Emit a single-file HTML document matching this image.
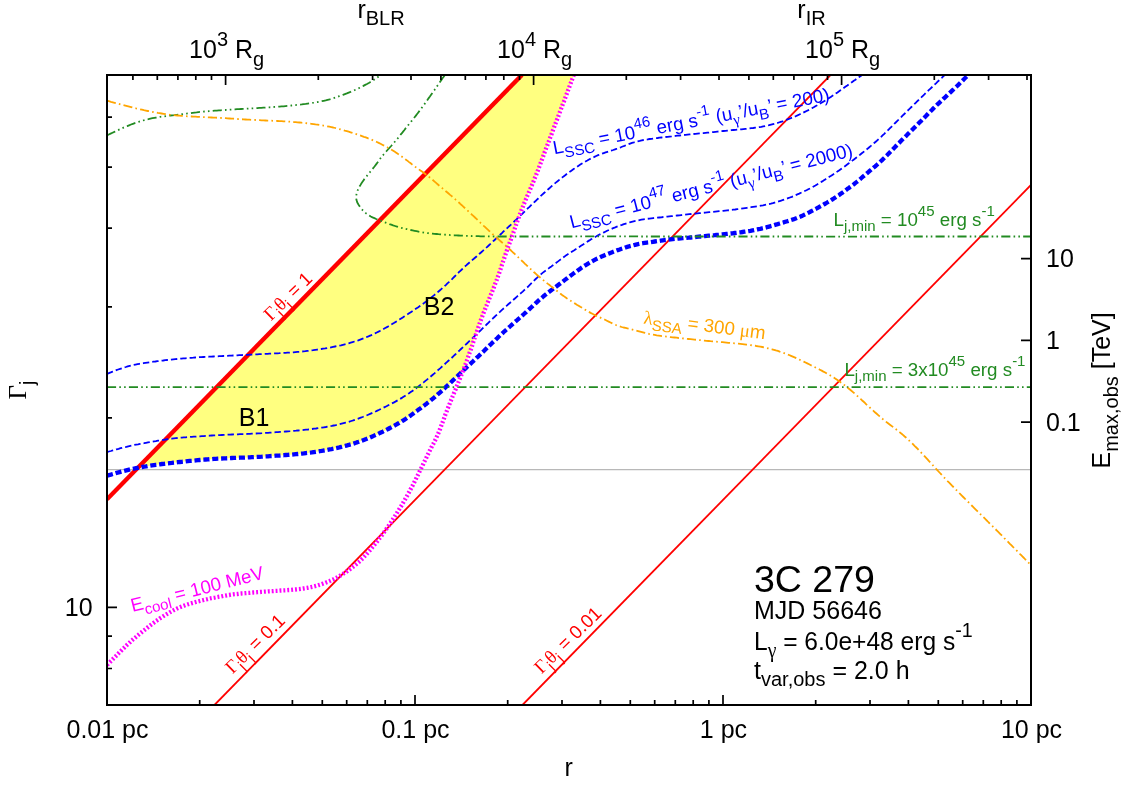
<!DOCTYPE html>
<html><head><meta charset="utf-8"><title>3C 279 jet parameter space</title>
<style>html,body{margin:0;padding:0;background:#fff;}body{width:1121px;height:785px;overflow:hidden;font-family:"Liberation Sans",sans-serif;}svg{display:block;will-change:transform;}</style>
</head><body>
<svg width="1121" height="785" viewBox="0 0 1121 785" font-family="Liberation Sans, sans-serif">
<defs><clipPath id="c"><rect x="107.0" y="75.0" width="924.0" height="630.0"/></clipPath></defs>
<rect width="1121" height="785" fill="#fff"/>
<g clip-path="url(#c)" fill="none" stroke-linecap="butt" stroke-linejoin="round">
<path d="M138.1,467.8 L521.9,75.0 L573.7,75.0 L573.7,75.2 L573.0,77.1 L572.3,79.0 L571.6,80.8 L570.9,82.7 L570.2,84.6 L569.5,86.5 L568.8,88.4 L568.1,90.2 L567.4,92.1 L566.7,94.0 L566.0,95.9 L565.3,97.7 L564.6,99.6 L563.9,101.5 L563.1,103.4 L562.4,105.2 L561.7,107.1 L561.0,109.0 L560.3,110.9 L559.6,112.7 L558.9,114.6 L558.2,116.5 L557.5,118.4 L556.8,120.2 L556.0,122.1 L555.3,124.0 L554.6,125.9 L553.9,127.7 L553.2,129.6 L552.5,131.5 L551.8,133.4 L551.1,135.3 L550.4,137.1 L549.7,139.0 L549.0,140.9 L548.3,142.8 L547.6,144.6 L546.9,146.5 L546.1,148.4 L545.4,150.3 L544.7,152.1 L544.0,154.0 L543.3,155.9 L542.6,157.8 L541.9,159.7 L541.2,161.5 L540.5,163.4 L539.8,165.3 L539.1,167.2 L538.4,169.0 L537.7,170.9 L536.9,172.8 L536.2,174.7 L535.5,176.5 L534.7,178.4 L534.0,180.2 L533.2,182.1 L532.4,183.9 L531.7,185.8 L530.9,187.6 L530.1,189.5 L529.3,191.3 L528.5,193.2 L527.7,195.0 L526.9,196.8 L526.1,198.7 L525.4,200.5 L524.6,202.4 L523.8,204.2 L523.1,206.1 L522.3,208.0 L521.6,209.8 L520.9,211.7 L520.2,213.6 L519.4,215.5 L518.8,217.3 L518.1,219.2 L517.4,221.1 L516.7,223.0 L516.0,224.9 L515.4,226.8 L514.7,228.7 L514.0,230.6 L513.4,232.4 L512.7,234.3 L512.0,236.2 L511.3,238.1 L510.7,240.0 L510.0,241.9 L509.3,243.8 L508.6,245.7 L507.9,247.5 L507.3,249.4 L506.6,251.3 L505.9,253.2 L505.3,255.1 L504.6,257.0 L504.0,258.9 L503.3,260.8 L502.7,262.7 L502.0,264.6 L501.4,266.5 L500.8,268.4 L500.1,270.3 L499.5,272.2 L498.8,274.1 L498.1,276.0 L497.4,277.9 L496.8,279.7 L496.1,281.6 L495.3,283.5 L494.6,285.4 L493.9,287.2 L493.2,289.1 L492.4,291.0 L491.7,292.8 L490.9,294.7 L490.2,296.5 L489.4,298.4 L488.6,300.3 L487.9,302.1 L487.1,304.0 L486.4,305.8 L485.6,307.7 L484.9,309.6 L484.2,311.4 L483.4,313.3 L482.7,315.2 L482.0,317.0 L481.3,318.9 L480.6,320.8 L479.9,322.7 L479.3,324.6 L478.6,326.5 L478.0,328.4 L477.3,330.3 L476.7,332.2 L476.0,334.1 L475.4,336.0 L474.7,337.9 L474.1,339.8 L473.4,341.7 L472.8,343.6 L472.2,345.5 L471.5,347.4 L470.9,349.3 L470.2,351.2 L469.5,353.0 L468.9,354.9 L468.2,356.8 L467.5,358.7 L466.9,360.6 L466.2,362.5 L465.5,364.4 L464.8,366.2 L464.1,368.1 L463.3,370.0 L463.8,370.0 L462.4,371.4 L460.9,372.8 L459.4,374.2 L458.0,375.6 L456.5,376.9 L455.1,378.3 L453.6,379.7 L452.2,381.1 L450.7,382.5 L449.3,383.9 L447.8,385.2 L446.3,386.6 L444.9,388.0 L443.4,389.4 L441.9,390.7 L440.4,392.1 L438.9,393.4 L437.4,394.7 L435.9,396.1 L434.4,397.4 L432.9,398.6 L431.3,399.9 L429.8,401.2 L428.2,402.4 L426.6,403.7 L425.0,404.9 L423.4,406.1 L421.8,407.3 L420.2,408.5 L418.6,409.6 L417.0,410.8 L415.3,412.0 L413.7,413.2 L412.1,414.4 L410.5,415.6 L408.8,416.7 L407.2,417.8 L405.5,419.0 L403.8,420.1 L402.1,421.1 L400.4,422.2 L398.7,423.2 L397.0,424.2 L395.2,425.2 L393.4,426.2 L391.7,427.1 L389.9,428.0 L388.1,429.0 L386.3,429.9 L384.5,430.8 L382.8,431.7 L380.9,432.5 L379.1,433.4 L377.3,434.3 L375.5,435.1 L373.6,435.9 L371.8,436.7 L370.0,437.5 L368.1,438.2 L366.2,439.0 L364.4,439.7 L362.5,440.4 L360.6,441.1 L358.7,441.8 L356.8,442.4 L354.9,443.1 L353.0,443.7 L351.1,444.3 L349.1,444.8 L347.2,445.4 L345.3,445.9 L343.3,446.4 L341.4,446.9 L339.4,447.4 L337.5,447.8 L335.5,448.2 L333.6,448.7 L331.6,449.1 L329.6,449.4 L327.6,449.8 L325.7,450.2 L323.7,450.5 L321.7,450.9 L319.7,451.2 L317.8,451.5 L315.8,451.8 L313.8,452.1 L311.8,452.4 L309.8,452.6 L307.8,452.9 L305.8,453.1 L303.8,453.4 L301.8,453.6 L299.9,453.8 L297.9,454.0 L295.9,454.2 L293.9,454.4 L291.9,454.6 L289.9,454.7 L287.9,454.9 L285.9,455.0 L283.9,455.2 L281.9,455.3 L279.9,455.5 L277.9,455.6 L275.9,455.7 L273.9,455.9 L271.9,456.0 L269.9,456.1 L267.9,456.3 L265.9,456.4 L263.9,456.5 L261.8,456.7 L259.8,456.8 L257.8,456.9 L255.8,457.0 L253.8,457.1 L251.8,457.2 L249.8,457.3 L247.8,457.4 L245.8,457.5 L243.8,457.6 L241.8,457.6 L239.8,457.7 L237.8,457.8 L235.8,457.9 L233.8,457.9 L231.8,458.0 L229.8,458.1 L227.8,458.2 L225.8,458.3 L223.8,458.4 L221.8,458.5 L219.8,458.6 L217.8,458.7 L215.8,458.8 L213.8,458.9 L211.8,459.1 L209.8,459.2 L207.8,459.4 L205.8,459.5 L203.8,459.7 L201.8,459.8 L199.8,460.0 L197.8,460.2 L195.8,460.4 L193.8,460.6 L191.8,460.8 L189.8,460.9 L187.8,461.1 L185.8,461.3 L183.8,461.6 L181.8,461.8 L179.8,462.0 L177.8,462.2 L175.8,462.4 L173.8,462.6 L171.8,462.9 L169.8,463.1 L167.8,463.3 L165.9,463.5 L163.9,463.8 L161.9,464.0 L159.9,464.3 L157.9,464.6 L155.9,464.8 L153.9,465.1 L151.9,465.4 L150.0,465.7 L148.0,466.0 L146.0,466.4 L144.0,466.7 L142.0,467.0 L140.1,467.4 L138.1,467.8Z" fill="#ffff80" stroke="none"/>
<path d="M107.0,469.6 L1031.0,469.6" stroke="#b8b8b8" stroke-width="1.2"/>
<path d="M107.0,499.3 L521.9,75.0" stroke="#f00" stroke-width="4.4"/>
<path d="M214.5,705.0 L830.5,75.0" stroke="#f00" stroke-width="1.8"/>
<path d="M522.5,705.0 L1031.0,184.9" stroke="#f00" stroke-width="1.8"/>
<path d="M107.0,373.9 L108.9,373.1 L110.7,372.4 L112.6,371.6 L114.5,370.9 L116.3,370.2 L118.2,369.5 L120.1,368.8 L122.0,368.2 L123.9,367.5 L125.8,367.0 L127.7,366.4 L129.7,365.9 L131.6,365.4 L133.6,365.0 L135.5,364.6 L137.5,364.2 L139.5,363.8 L141.5,363.5 L143.4,363.2 L145.4,362.9 L147.4,362.6 L149.4,362.3 L151.4,362.0 L153.4,361.7 L155.4,361.5 L157.4,361.2 L159.4,361.0 L161.3,360.7 L163.3,360.5 L165.3,360.2 L167.3,360.0 L169.3,359.8 L171.3,359.6 L173.3,359.4 L175.3,359.2 L177.3,359.0 L179.3,358.8 L181.3,358.6 L183.3,358.4 L185.3,358.3 L187.3,358.1 L189.3,357.9 L191.3,357.8 L193.3,357.7 L195.3,357.5 L197.3,357.4 L199.3,357.2 L201.3,357.1 L203.3,357.0 L205.3,356.9 L207.3,356.8 L209.3,356.7 L211.3,356.6 L213.3,356.5 L215.3,356.4 L217.3,356.3 L219.3,356.2 L221.3,356.1 L223.3,356.0 L225.3,355.9 L227.3,355.8 L229.3,355.7 L231.3,355.6 L233.3,355.5 L235.3,355.4 L237.3,355.3 L239.3,355.2 L241.3,355.1 L243.3,355.0 L245.3,354.9 L247.3,354.8 L249.3,354.7 L251.3,354.6 L253.3,354.5 L255.3,354.4 L257.3,354.3 L259.3,354.2 L261.3,354.1 L263.3,354.0 L265.4,353.9 L267.4,353.8 L269.4,353.7 L271.4,353.6 L273.4,353.5 L275.4,353.4 L277.4,353.3 L279.4,353.2 L281.4,353.0 L283.4,352.9 L285.4,352.8 L287.4,352.7 L289.4,352.6 L291.4,352.4 L293.4,352.3 L295.4,352.1 L297.4,351.9 L299.4,351.8 L301.4,351.6 L303.4,351.4 L305.4,351.2 L307.3,350.9 L309.3,350.7 L311.3,350.4 L313.3,350.2 L315.3,349.9 L317.3,349.6 L319.3,349.3 L321.2,349.0 L323.2,348.7 L325.2,348.4 L327.2,348.0 L329.2,347.7 L331.1,347.3 L333.1,346.9 L335.1,346.5 L337.0,346.1 L339.0,345.7 L341.0,345.3 L342.9,344.8 L344.8,344.3 L346.8,343.8 L348.7,343.3 L350.7,342.7 L352.6,342.1 L354.5,341.5 L356.4,340.9 L358.3,340.3 L360.2,339.6 L362.1,338.9 L363.9,338.2 L365.8,337.4 L367.7,336.7 L369.5,335.9 L371.4,335.1 L373.2,334.2 L375.0,333.4 L376.8,332.5 L378.6,331.6 L380.4,330.7 L382.2,329.8 L383.9,328.8 L385.7,327.8 L387.4,326.9 L389.2,325.8 L390.9,324.8 L392.6,323.8 L394.3,322.8 L396.0,321.7 L397.7,320.6 L399.4,319.6 L401.1,318.5 L402.8,317.4 L404.5,316.3 L406.2,315.2 L407.9,314.1 L409.5,313.0 L411.2,311.9 L412.9,310.8 L414.5,309.7 L416.2,308.5 L417.9,307.4 L419.5,306.3 L421.1,305.1 L422.8,303.9 L424.4,302.8 L426.0,301.6 L427.6,300.4 L429.2,299.1 L430.8,297.9 L432.3,296.6 L433.9,295.4 L435.4,294.1 L437.0,292.8 L438.5,291.5 L440.0,290.2 L441.5,288.9 L443.0,287.5 L444.5,286.2 L446.0,284.8 L447.4,283.4 L448.9,282.1 L450.3,280.7 L451.8,279.3 L453.2,277.9 L454.6,276.5 L456.1,275.1 L457.5,273.7 L458.9,272.2 L460.4,270.8 L461.8,269.5 L463.3,268.1 L464.7,266.7 L466.2,265.4 L467.7,264.0 L469.2,262.7 L470.7,261.4 L472.2,260.1 L473.8,258.8 L475.3,257.5 L476.8,256.2 L478.3,254.9 L479.8,253.5 L481.3,252.2 L482.8,250.9 L484.3,249.5 L485.8,248.2 L487.3,246.8 L488.7,245.5 L490.2,244.1 L491.7,242.7 L493.1,241.3 L494.6,240.0 L496.0,238.6 L497.5,237.2 L499.0,235.8 L500.4,234.5 L501.9,233.1 L503.3,231.7 L504.8,230.3 L506.3,229.0 L507.7,227.6 L509.2,226.2 L510.7,224.9 L512.1,223.5 L513.6,222.1 L515.0,220.7 L516.5,219.3 L517.9,218.0 L519.4,216.6 L520.8,215.2 L522.3,213.8 L523.7,212.4 L525.2,211.0 L526.6,209.6 L528.0,208.2 L529.5,206.8 L530.9,205.4 L532.4,204.0 L533.8,202.6 L535.3,201.3 L536.7,199.9 L538.2,198.5 L539.6,197.1 L541.1,195.7 L542.5,194.4 L544.0,193.0 L545.5,191.7 L547.0,190.3 L548.5,189.0 L550.0,187.7 L551.5,186.3 L553.0,185.0 L554.5,183.7 L556.1,182.4 L557.6,181.2 L559.2,179.9 L560.7,178.7 L562.3,177.4 L563.9,176.2 L565.5,175.0 L567.1,173.7 L568.7,172.6 L570.3,171.4 L572.0,170.2 L573.6,169.1 L575.3,167.9 L577.0,166.8 L578.6,165.7 L580.3,164.6 L582.0,163.5 L583.8,162.5 L585.5,161.5 L587.3,160.5 L589.0,159.5 L590.8,158.6 L592.6,157.7 L594.4,156.9 L596.2,156.0 L598.1,155.2 L599.9,154.5 L601.8,153.8 L603.7,153.1 L605.6,152.4 L607.5,151.8 L609.4,151.2 L611.3,150.6 L613.2,150.0 L615.1,149.3 L617.0,148.7 L618.9,148.0 L620.8,147.3 L622.6,146.5 L624.5,145.8 L626.4,145.0 L628.2,144.3 L630.1,143.6 L632.0,142.9 L633.9,142.4 L635.8,141.8 L637.8,141.3 L639.7,140.9 L641.7,140.4 L643.6,140.0 L645.6,139.7 L647.6,139.4 L649.6,139.0 L651.6,138.8 L653.6,138.5 L655.6,138.2 L657.6,138.0 L659.6,137.7 L661.6,137.5 L663.6,137.3 L665.6,137.0 L667.6,136.8 L669.6,136.6 L671.6,136.4 L673.6,136.1 L675.6,135.9 L677.5,135.7 L679.5,135.5 L681.5,135.3 L683.5,135.1 L685.5,134.8 L687.5,134.6 L689.5,134.4 L691.5,134.2 L693.5,134.0 L695.5,133.8 L697.5,133.6 L699.5,133.4 L701.5,133.2 L703.5,133.1 L705.5,132.9 L707.4,132.7 L709.4,132.5 L711.4,132.3 L713.4,132.1 L715.4,131.8 L717.4,131.6 L719.4,131.4 L721.4,131.2 L723.4,131.0 L725.4,130.8 L727.4,130.6 L729.4,130.4 L731.4,130.2 L733.4,130.0 L735.4,129.9 L737.4,129.7 L739.4,129.5 L741.4,129.3 L743.4,129.1 L745.4,128.9 L747.4,128.7 L749.4,128.5 L751.3,128.2 L753.3,128.0 L755.3,127.7 L757.3,127.4 L759.3,127.1 L761.3,126.8 L763.2,126.4 L765.2,126.0 L767.2,125.6 L769.1,125.2 L771.1,124.7 L773.0,124.2 L775.0,123.7 L776.9,123.1 L778.8,122.5 L780.7,121.9 L782.6,121.3 L784.5,120.6 L786.4,119.9 L788.3,119.2 L790.1,118.5 L792.0,117.7 L793.9,117.0 L795.7,116.2 L797.5,115.4 L799.4,114.5 L801.2,113.7 L803.0,112.8 L804.8,111.9 L806.6,111.0 L808.4,110.1 L810.1,109.2 L811.9,108.2 L813.7,107.3 L815.4,106.3 L817.2,105.3 L818.9,104.3 L820.6,103.3 L822.4,102.3 L824.1,101.2 L825.8,100.1 L827.5,99.1 L829.1,98.0 L830.8,96.9 L832.5,95.8 L834.2,94.7 L835.8,93.5 L837.5,92.4 L839.1,91.3 L840.8,90.1 L842.4,89.0 L844.0,87.8 L845.7,86.6 L847.3,85.5 L848.9,84.3 L850.6,83.2 L852.2,82.0 L853.8,80.8 L855.5,79.7 L857.1,78.5 L858.7,77.3 L860.4,76.2 L862.0,75.0" stroke="#00f" stroke-width="1.8" stroke-dasharray="6.4 3"/>
<path d="M107.0,452.1 L108.9,451.5 L110.9,451.0 L112.8,450.4 L114.7,449.9 L116.6,449.3 L118.6,448.8 L120.5,448.2 L122.5,447.7 L124.4,447.2 L126.4,446.8 L128.3,446.3 L130.3,445.9 L132.2,445.5 L134.2,445.0 L136.2,444.6 L138.1,444.3 L140.1,443.9 L142.1,443.5 L144.1,443.2 L146.0,442.8 L148.0,442.4 L150.0,442.1 L152.0,441.8 L154.0,441.4 L155.9,441.1 L157.9,440.7 L159.9,440.4 L161.9,440.1 L163.9,439.8 L165.8,439.5 L167.8,439.2 L169.8,438.9 L171.8,438.7 L173.8,438.4 L175.8,438.2 L177.8,438.0 L179.8,437.8 L181.8,437.6 L183.8,437.4 L185.8,437.3 L187.8,437.1 L189.8,437.0 L191.8,436.8 L193.8,436.7 L195.8,436.6 L197.8,436.4 L199.8,436.3 L201.8,436.2 L203.8,436.1 L205.8,435.9 L207.8,435.8 L209.8,435.7 L211.8,435.5 L213.8,435.4 L215.8,435.3 L217.8,435.2 L219.9,435.1 L221.9,435.0 L223.9,434.9 L225.9,434.8 L227.9,434.7 L229.9,434.6 L231.9,434.5 L233.9,434.4 L235.9,434.4 L237.9,434.3 L239.9,434.2 L241.9,434.1 L243.9,434.1 L245.9,434.0 L247.9,433.9 L249.9,433.8 L251.9,433.7 L254.0,433.6 L256.0,433.5 L258.0,433.4 L260.0,433.3 L262.0,433.2 L264.0,433.0 L266.0,432.9 L268.0,432.8 L270.0,432.6 L272.0,432.5 L274.0,432.4 L276.0,432.2 L278.0,432.1 L280.0,431.9 L282.0,431.8 L284.0,431.7 L286.0,431.5 L288.0,431.3 L290.0,431.2 L292.0,431.0 L294.0,430.8 L296.0,430.7 L298.0,430.5 L300.0,430.3 L302.0,430.1 L304.0,429.9 L306.0,429.7 L308.0,429.5 L310.0,429.2 L312.0,429.0 L314.0,428.7 L316.0,428.5 L317.9,428.2 L319.9,427.9 L321.9,427.6 L323.9,427.3 L325.9,427.0 L327.9,426.6 L329.8,426.2 L331.8,425.9 L333.8,425.5 L335.8,425.1 L337.7,424.6 L339.7,424.2 L341.6,423.7 L343.6,423.2 L345.5,422.7 L347.5,422.2 L349.4,421.6 L351.3,421.0 L353.2,420.4 L355.1,419.7 L357.0,419.1 L358.9,418.4 L360.8,417.7 L362.6,417.0 L364.5,416.2 L366.4,415.5 L368.2,414.7 L370.1,413.9 L371.9,413.1 L373.8,412.3 L375.6,411.5 L377.4,410.6 L379.2,409.8 L381.1,408.9 L382.9,408.0 L384.7,407.1 L386.5,406.3 L388.3,405.3 L390.1,404.4 L391.8,403.5 L393.6,402.6 L395.4,401.6 L397.1,400.6 L398.9,399.6 L400.6,398.6 L402.3,397.6 L404.0,396.5 L405.7,395.4 L407.4,394.3 L409.1,393.2 L410.7,392.1 L412.4,390.9 L414.0,389.8 L415.6,388.6 L417.2,387.4 L418.8,386.1 L420.4,384.9 L422.0,383.7 L423.6,382.4 L425.1,381.1 L426.7,379.9 L428.2,378.6 L429.8,377.3 L431.3,376.0 L432.8,374.7 L434.4,373.4 L435.9,372.1 L437.4,370.7 L438.9,369.4 L440.4,368.1 L441.9,366.7 L443.4,365.4 L444.9,364.0 L446.3,362.7 L447.8,361.3 L449.3,360.0 L450.8,358.6 L452.3,357.3 L453.7,355.9 L455.2,354.5 L456.7,353.2 L458.1,351.8 L459.6,350.4 L461.0,349.0 L462.5,347.6 L464.0,346.3 L465.4,344.9 L466.9,343.5 L468.3,342.1 L469.8,340.7 L471.2,339.3 L472.7,338.0 L474.1,336.6 L475.6,335.2 L477.0,333.8 L478.5,332.4 L479.9,331.0 L481.4,329.6 L482.8,328.2 L484.2,326.8 L485.7,325.4 L487.1,324.0 L488.6,322.6 L490.0,321.2 L491.5,319.8 L492.9,318.4 L494.4,317.0 L495.8,315.7 L497.3,314.3 L498.7,312.9 L500.2,311.6 L501.7,310.2 L503.2,308.8 L504.7,307.5 L506.2,306.2 L507.7,304.8 L509.2,303.5 L510.7,302.2 L512.2,300.9 L513.7,299.5 L515.2,298.2 L516.7,296.9 L518.2,295.6 L519.7,294.2 L521.2,292.9 L522.7,291.6 L524.2,290.2 L525.7,288.8 L527.2,287.5 L528.6,286.1 L530.0,284.7 L531.5,283.2 L532.9,281.8 L534.3,280.4 L535.7,279.0 L537.2,277.6 L538.6,276.2 L540.1,274.9 L541.7,273.6 L543.2,272.4 L544.8,271.2 L546.5,270.0 L548.1,268.8 L549.7,267.6 L551.4,266.4 L553.0,265.2 L554.6,264.0 L556.2,262.8 L557.8,261.6 L559.4,260.4 L561.0,259.2 L562.6,258.0 L564.2,256.8 L565.8,255.6 L567.5,254.5 L569.2,253.4 L570.9,252.3 L572.6,251.2 L574.3,250.2 L576.0,249.1 L577.6,248.0 L579.3,246.9 L581.0,245.8 L582.7,244.7 L584.4,243.6 L586.0,242.5 L587.7,241.4 L589.4,240.4 L591.1,239.3 L592.9,238.3 L594.6,237.3 L596.4,236.3 L598.1,235.3 L599.9,234.4 L601.7,233.5 L603.5,232.6 L605.3,231.7 L607.1,230.8 L608.9,230.0 L610.8,229.2 L612.6,228.4 L614.5,227.7 L616.3,226.9 L618.2,226.2 L620.1,225.5 L622.0,224.9 L623.9,224.2 L625.8,223.6 L627.7,223.0 L629.7,222.4 L631.6,221.9 L633.5,221.4 L635.5,220.9 L637.5,220.5 L639.4,220.1 L641.4,219.7 L643.4,219.4 L645.4,219.1 L647.4,218.8 L649.3,218.6 L651.3,218.3 L653.3,218.1 L655.3,217.9 L657.3,217.7 L659.3,217.5 L661.3,217.3 L663.3,217.0 L665.3,216.8 L667.3,216.6 L669.3,216.4 L671.3,216.2 L673.3,216.0 L675.3,215.7 L677.3,215.5 L679.3,215.3 L681.3,215.1 L683.3,214.9 L685.3,214.6 L687.3,214.4 L689.3,214.2 L691.3,214.0 L693.3,213.8 L695.3,213.6 L697.3,213.4 L699.3,213.2 L701.3,213.0 L703.2,212.8 L705.2,212.6 L707.2,212.4 L709.2,212.2 L711.2,212.0 L713.2,211.8 L715.2,211.6 L717.2,211.4 L719.2,211.2 L721.2,211.0 L723.2,210.8 L725.2,210.6 L727.2,210.4 L729.2,210.2 L731.2,209.9 L733.2,209.7 L735.2,209.5 L737.2,209.2 L739.2,209.0 L741.2,208.7 L743.2,208.4 L745.1,208.1 L747.1,207.8 L749.1,207.5 L751.1,207.2 L753.1,206.9 L755.1,206.6 L757.1,206.3 L759.0,206.0 L761.0,205.6 L763.0,205.3 L765.0,204.9 L766.9,204.5 L768.9,204.1 L770.9,203.7 L772.8,203.2 L774.7,202.6 L776.7,202.0 L778.6,201.4 L780.5,200.8 L782.4,200.2 L784.3,199.5 L786.2,198.9 L788.1,198.2 L790.0,197.5 L791.8,196.8 L793.7,196.0 L795.5,195.2 L797.4,194.4 L799.2,193.6 L801.0,192.7 L802.8,191.9 L804.7,191.0 L806.5,190.2 L808.3,189.3 L810.1,188.4 L811.9,187.5 L813.6,186.5 L815.4,185.5 L817.1,184.5 L818.8,183.5 L820.5,182.4 L822.2,181.4 L823.9,180.3 L825.6,179.2 L827.3,178.1 L829.0,177.0 L830.7,176.0 L832.4,174.9 L834.1,173.8 L835.7,172.6 L837.4,171.5 L839.0,170.4 L840.7,169.2 L842.3,168.1 L844.0,166.9 L845.6,165.7 L847.2,164.5 L848.8,163.3 L850.4,162.2 L852.0,160.9 L853.6,159.7 L855.2,158.5 L856.8,157.3 L858.4,156.1 L860.0,154.8 L861.5,153.5 L863.1,152.3 L864.7,151.0 L866.2,149.7 L867.8,148.5 L869.3,147.2 L870.9,145.9 L872.4,144.6 L873.9,143.3 L875.4,142.0 L876.9,140.7 L878.4,139.3 L879.9,138.0 L881.4,136.6 L882.8,135.2 L884.3,133.8 L885.7,132.4 L887.2,131.0 L888.6,129.6 L890.0,128.2 L891.4,126.8 L892.9,125.4 L894.3,123.9 L895.7,122.5 L897.1,121.1 L898.6,119.7 L900.0,118.3 L901.4,116.9 L902.8,115.4 L904.3,114.0 L905.7,112.6 L907.1,111.2 L908.5,109.8 L910.0,108.4 L911.4,107.0 L912.8,105.6 L914.3,104.2 L915.7,102.8 L917.1,101.4 L918.6,100.0 L920.0,98.6 L921.5,97.2 L922.9,95.8 L924.4,94.4 L925.8,93.0 L927.3,91.6 L928.7,90.2 L930.2,88.8 L931.6,87.5 L933.1,86.1 L934.5,84.7 L936.0,83.3 L937.4,81.9 L938.9,80.5 L940.3,79.2 L941.8,77.8 L943.2,76.4 L944.7,75.0" stroke="#00f" stroke-width="1.8" stroke-dasharray="6.4 3"/>
<path d="M107.0,475.7 L108.9,475.1 L110.9,474.6 L112.8,474.0 L114.7,473.5 L116.6,472.9 L118.6,472.4 L120.5,471.9 L122.4,471.4 L124.4,470.9 L126.3,470.4 L128.3,469.9 L130.2,469.4 L132.2,469.0 L134.2,468.6 L136.1,468.2 L138.1,467.8 L140.1,467.4 L142.0,467.0 L144.0,466.7 L146.0,466.4 L148.0,466.0 L150.0,465.7 L151.9,465.4 L153.9,465.1 L155.9,464.8 L157.9,464.6 L159.9,464.3 L161.9,464.0 L163.9,463.8 L165.9,463.5 L167.8,463.3 L169.8,463.1 L171.8,462.9 L173.8,462.6 L175.8,462.4 L177.8,462.2 L179.8,462.0 L181.8,461.8 L183.8,461.6 L185.8,461.3 L187.8,461.1 L189.8,460.9 L191.8,460.8 L193.8,460.6 L195.8,460.4 L197.8,460.2 L199.8,460.0 L201.8,459.8 L203.8,459.7 L205.8,459.5 L207.8,459.4 L209.8,459.2 L211.8,459.1 L213.8,458.9 L215.8,458.8 L217.8,458.7 L219.8,458.6 L221.8,458.5 L223.8,458.4 L225.8,458.3 L227.8,458.2 L229.8,458.1 L231.8,458.0 L233.8,457.9 L235.8,457.9 L237.8,457.8 L239.8,457.7 L241.8,457.6 L243.8,457.6 L245.8,457.5 L247.8,457.4 L249.8,457.3 L251.8,457.2 L253.8,457.1 L255.8,457.0 L257.8,456.9 L259.8,456.8 L261.8,456.7 L263.9,456.5 L265.9,456.4 L267.9,456.3 L269.9,456.1 L271.9,456.0 L273.9,455.9 L275.9,455.7 L277.9,455.6 L279.9,455.5 L281.9,455.3 L283.9,455.2 L285.9,455.0 L287.9,454.9 L289.9,454.7 L291.9,454.6 L293.9,454.4 L295.9,454.2 L297.9,454.0 L299.9,453.8 L301.8,453.6 L303.8,453.4 L305.8,453.1 L307.8,452.9 L309.8,452.6 L311.8,452.4 L313.8,452.1 L315.8,451.8 L317.8,451.5 L319.7,451.2 L321.7,450.9 L323.7,450.5 L325.7,450.2 L327.6,449.8 L329.6,449.4 L331.6,449.1 L333.6,448.7 L335.5,448.2 L337.5,447.8 L339.4,447.4 L341.4,446.9 L343.3,446.4 L345.3,445.9 L347.2,445.4 L349.1,444.8 L351.1,444.3 L353.0,443.7 L354.9,443.1 L356.8,442.4 L358.7,441.8 L360.6,441.1 L362.5,440.4 L364.4,439.7 L366.2,439.0 L368.1,438.2 L370.0,437.5 L371.8,436.7 L373.6,435.9 L375.5,435.1 L377.3,434.3 L379.1,433.4 L380.9,432.5 L382.8,431.7 L384.5,430.8 L386.3,429.9 L388.1,429.0 L389.9,428.0 L391.7,427.1 L393.4,426.2 L395.2,425.2 L397.0,424.2 L398.7,423.2 L400.4,422.2 L402.1,421.1 L403.8,420.1 L405.5,419.0 L407.2,417.8 L408.8,416.7 L410.5,415.6 L412.1,414.4 L413.7,413.2 L415.3,412.0 L417.0,410.8 L418.6,409.6 L420.2,408.5 L421.8,407.3 L423.4,406.1 L425.0,404.9 L426.6,403.7 L428.2,402.4 L429.8,401.2 L431.3,399.9 L432.9,398.6 L434.4,397.4 L435.9,396.1 L437.4,394.7 L438.9,393.4 L440.4,392.1 L441.9,390.7 L443.4,389.4 L444.9,388.0 L446.3,386.6 L447.8,385.2 L449.3,383.9 L450.7,382.5 L452.2,381.1 L453.6,379.7 L455.1,378.3 L456.5,376.9 L458.0,375.6 L459.4,374.2 L460.9,372.8 L462.4,371.4 L463.8,370.0 L465.3,368.7 L466.7,367.3 L468.2,365.9 L469.7,364.5 L471.1,363.2 L472.6,361.8 L474.0,360.4 L475.5,359.0 L476.9,357.6 L478.4,356.3 L479.8,354.9 L481.3,353.5 L482.7,352.1 L484.2,350.7 L485.6,349.3 L487.0,347.9 L488.5,346.5 L489.9,345.1 L491.4,343.7 L492.8,342.3 L494.3,341.0 L495.7,339.6 L497.2,338.2 L498.6,336.8 L500.1,335.4 L501.6,334.1 L503.0,332.7 L504.5,331.3 L506.0,330.0 L507.5,328.7 L509.0,327.3 L510.5,326.0 L512.0,324.6 L513.5,323.3 L515.0,322.0 L516.5,320.7 L518.0,319.3 L519.5,318.0 L521.0,316.7 L522.5,315.3 L524.0,314.0 L525.5,312.7 L526.9,311.3 L528.4,310.0 L529.9,308.6 L531.4,307.2 L532.8,305.9 L534.3,304.5 L535.8,303.1 L537.2,301.8 L538.7,300.4 L540.2,299.1 L541.8,297.8 L543.3,296.5 L544.9,295.2 L546.4,294.0 L548.0,292.7 L549.6,291.5 L551.2,290.3 L552.8,289.1 L554.4,287.9 L556.0,286.7 L557.6,285.5 L559.2,284.3 L560.8,283.1 L562.4,281.9 L564.0,280.6 L565.6,279.4 L567.2,278.2 L568.8,277.0 L570.4,275.8 L572.0,274.6 L573.6,273.4 L575.2,272.2 L576.9,271.1 L578.5,269.9 L580.2,268.7 L581.8,267.6 L583.5,266.5 L585.2,265.4 L586.9,264.4 L588.6,263.3 L590.3,262.3 L592.1,261.3 L593.8,260.4 L595.6,259.4 L597.4,258.5 L599.2,257.7 L601.0,256.8 L602.9,256.0 L604.7,255.2 L606.6,254.4 L608.4,253.7 L610.3,252.9 L612.2,252.2 L614.0,251.5 L615.9,250.8 L617.8,250.1 L619.7,249.5 L621.6,248.8 L623.5,248.2 L625.4,247.5 L627.3,246.9 L629.2,246.3 L631.2,245.8 L633.1,245.3 L635.0,244.8 L637.0,244.3 L639.0,243.9 L640.9,243.5 L642.9,243.2 L644.9,242.9 L646.9,242.6 L648.9,242.4 L650.9,242.1 L652.8,241.8 L654.8,241.5 L656.8,241.2 L658.8,240.9 L660.8,240.6 L662.8,240.3 L664.7,240.0 L666.7,239.8 L668.7,239.5 L670.7,239.3 L672.7,239.1 L674.7,238.9 L676.7,238.8 L678.7,238.6 L680.7,238.4 L682.7,238.2 L684.7,238.0 L686.7,237.8 L688.7,237.7 L690.7,237.5 L692.7,237.3 L694.7,237.1 L696.7,236.9 L698.7,236.7 L700.7,236.5 L702.7,236.3 L704.7,236.1 L706.7,235.9 L708.7,235.7 L710.7,235.5 L712.6,235.3 L714.6,235.2 L716.6,235.0 L718.6,234.8 L720.6,234.6 L722.6,234.4 L724.6,234.1 L726.6,233.9 L728.6,233.7 L730.6,233.5 L732.6,233.3 L734.6,233.0 L736.6,232.8 L738.6,232.5 L740.6,232.3 L742.6,232.0 L744.5,231.7 L746.5,231.4 L748.5,231.1 L750.5,230.8 L752.5,230.4 L754.4,230.0 L756.4,229.7 L758.4,229.2 L760.3,228.8 L762.3,228.3 L764.2,227.9 L766.2,227.4 L768.1,226.8 L770.0,226.3 L772.0,225.8 L773.9,225.2 L775.8,224.6 L777.7,224.1 L779.7,223.5 L781.6,222.9 L783.5,222.4 L785.4,221.8 L787.4,221.2 L789.3,220.6 L791.2,220.0 L793.1,219.4 L795.0,218.7 L796.8,218.0 L798.7,217.2 L800.6,216.5 L802.4,215.7 L804.2,214.8 L806.0,214.0 L807.8,213.1 L809.6,212.2 L811.4,211.2 L813.2,210.3 L814.9,209.3 L816.7,208.4 L818.5,207.4 L820.2,206.4 L822.0,205.5 L823.7,204.5 L825.5,203.5 L827.2,202.5 L828.9,201.5 L830.7,200.5 L832.4,199.4 L834.1,198.3 L835.7,197.2 L837.4,196.1 L839.1,195.0 L840.7,193.8 L842.3,192.7 L844.0,191.5 L845.6,190.3 L847.2,189.1 L848.8,188.0 L850.4,186.8 L852.1,185.6 L853.7,184.4 L855.2,183.1 L856.8,181.9 L858.4,180.6 L859.9,179.3 L861.4,178.0 L862.9,176.7 L864.5,175.4 L866.0,174.1 L867.5,172.8 L869.0,171.5 L870.6,170.2 L872.1,168.9 L873.6,167.6 L875.2,166.3 L876.7,165.0 L878.2,163.7 L879.7,162.3 L881.1,161.0 L882.6,159.6 L884.0,158.2 L885.5,156.8 L886.9,155.4 L888.3,153.9 L889.7,152.5 L891.1,151.1 L892.5,149.6 L893.9,148.2 L895.3,146.8 L896.7,145.3 L898.1,143.9 L899.5,142.5 L900.9,141.0 L902.3,139.6 L903.8,138.2 L905.2,136.8 L906.6,135.4 L908.0,133.9 L909.5,132.5 L910.9,131.1 L912.3,129.7 L913.7,128.3 L915.1,126.9 L916.6,125.5 L918.0,124.0 L919.4,122.6 L920.8,121.2 L922.2,119.7 L923.6,118.3 L925.0,116.9 L926.4,115.5 L927.8,114.0 L929.2,112.6 L930.6,111.2 L932.1,109.8 L933.5,108.3 L934.9,106.9 L936.4,105.5 L937.8,104.1 L939.2,102.8 L940.7,101.4 L942.2,100.0 L943.6,98.6 L945.1,97.3 L946.5,95.9 L948.0,94.5 L949.5,93.1 L950.9,91.8 L952.4,90.4 L953.9,89.0 L955.3,87.6 L956.8,86.3 L958.2,84.9 L959.6,83.5 L961.1,82.1 L962.5,80.7 L963.9,79.2 L965.4,77.8 L966.8,76.4 L968.2,75.0" stroke="#00f" stroke-width="4.3" stroke-dasharray="6.1 2.8"/>
<path d="M107.0,135.4 L108.8,134.5 L110.6,133.6 L112.5,132.7 L114.3,131.9 L116.1,131.0 L118.0,130.1 L119.8,129.3 L121.7,128.5 L123.5,127.6 L125.4,126.8 L127.2,126.1 L129.1,125.3 L131.0,124.5 L132.9,123.8 L134.8,123.1 L136.7,122.5 L138.7,121.8 L140.6,121.2 L142.6,120.6 L144.5,120.1 L146.5,119.5 L148.4,119.1 L150.4,118.6 L152.4,118.2 L154.4,117.8 L156.4,117.5 L158.4,117.1 L160.4,116.8 L162.4,116.6 L164.4,116.3 L166.4,116.0 L168.4,115.8 L170.4,115.5 L172.4,115.3 L174.5,115.1 L176.5,114.8 L178.5,114.6 L180.5,114.3 L182.5,114.1 L184.5,113.8 L186.5,113.6 L188.6,113.3 L190.6,113.1 L192.6,112.8 L194.6,112.6 L196.6,112.4 L198.6,112.1 L200.6,111.9 L202.6,111.7 L204.7,111.5 L206.7,111.4 L208.7,111.2 L210.7,111.0 L212.7,110.9 L214.8,110.7 L216.8,110.6 L218.8,110.4 L220.8,110.3 L222.8,110.1 L224.9,110.0 L226.9,109.9 L228.9,109.7 L230.9,109.6 L233.0,109.5 L235.0,109.4 L237.0,109.2 L239.0,109.1 L241.1,109.0 L243.1,108.9 L245.1,108.8 L247.1,108.7 L249.2,108.5 L251.2,108.4 L253.2,108.3 L255.2,108.2 L257.2,108.1 L259.3,107.9 L261.3,107.8 L263.3,107.7 L265.3,107.6 L267.4,107.4 L269.4,107.3 L271.4,107.2 L273.4,107.0 L275.4,106.9 L277.5,106.7 L279.5,106.6 L281.5,106.4 L283.5,106.3 L285.6,106.1 L287.6,105.9 L289.6,105.7 L291.6,105.5 L293.6,105.3 L295.6,105.1 L297.7,104.9 L299.7,104.6 L301.7,104.4 L303.7,104.1 L305.7,103.9 L307.7,103.6 L309.7,103.3 L311.7,103.0 L313.7,102.7 L315.7,102.3 L317.7,102.0 L319.7,101.6 L321.7,101.2 L323.7,100.8 L325.7,100.4 L327.6,99.9 L329.6,99.4 L331.5,98.8 L333.5,98.2 L335.4,97.6 L337.3,96.9 L339.2,96.2 L341.1,95.5 L343.0,94.8 L344.9,94.1 L346.8,93.4 L348.7,92.6 L350.6,91.9 L352.5,91.1 L354.3,90.3 L356.2,89.5 L358.0,88.6 L359.8,87.7 L361.6,86.8 L363.4,85.9 L365.2,84.9 L367.0,84.0 L368.8,83.0 L370.5,82.0 L372.3,80.9 L374.0,79.8 L375.6,78.7 L377.3,77.5 L378.9,76.2 L380.5,75.0" stroke="#228b22" stroke-width="1.8" stroke-dasharray="9.1 3.2 1.6 3.2 1.6 3.2"/>
<path d="M444.8,75.0 L443.7,76.7 L442.5,78.3 L441.4,80.0 L440.3,81.6 L439.1,83.3 L438.0,84.9 L436.8,86.6 L435.7,88.2 L434.5,89.9 L433.4,91.5 L432.2,93.2 L431.1,94.8 L429.9,96.5 L428.7,98.1 L427.6,99.7 L426.4,101.4 L425.3,103.0 L424.1,104.6 L422.9,106.3 L421.7,107.9 L420.5,109.5 L419.3,111.1 L418.1,112.7 L416.9,114.3 L415.7,115.9 L414.4,117.5 L413.2,119.1 L411.9,120.6 L410.6,122.2 L409.4,123.7 L408.1,125.3 L406.9,126.9 L405.6,128.4 L404.4,130.0 L403.1,131.6 L401.9,133.2 L400.6,134.7 L399.4,136.3 L398.1,137.9 L396.8,139.4 L395.5,140.9 L394.2,142.5 L392.9,144.0 L391.6,145.5 L390.2,147.0 L388.9,148.5 L387.5,150.0 L386.2,151.5 L384.9,153.0 L383.6,154.5 L382.3,156.1 L381.0,157.6 L379.8,159.2 L378.7,160.9 L377.5,162.5 L376.3,164.1 L375.1,165.7 L373.9,167.3 L372.6,168.9 L371.3,170.5 L370.1,172.0 L368.8,173.6 L367.5,175.1 L366.3,176.7 L365.0,178.3 L363.8,179.9 L362.7,181.5 L361.5,183.2 L360.5,184.9 L359.4,186.6 L358.5,188.4 L357.7,190.3 L357.0,192.2 L356.5,194.1 L356.2,196.1 L356.1,198.1 L356.5,200.1 L357.1,202.0 L358.0,203.8 L359.1,205.6 L360.2,207.3 L361.5,208.8 L362.8,210.3 L364.3,211.7 L365.8,213.1 L367.4,214.3 L369.0,215.4 L370.8,216.5 L372.5,217.4 L374.4,218.2 L376.2,219.0 L378.1,219.7 L380.0,220.4 L381.9,221.1 L383.7,221.9 L385.6,222.6 L387.5,223.3 L389.4,224.1 L391.2,224.7 L393.1,225.4 L395.0,226.0 L397.0,226.6 L398.9,227.2 L400.8,227.7 L402.8,228.2 L404.7,228.7 L406.7,229.1 L408.7,229.6 L410.6,230.0 L412.6,230.4 L414.6,230.8 L416.5,231.2 L418.5,231.6 L420.5,232.0 L422.4,232.3 L424.4,232.7 L426.4,233.0 L428.4,233.2 L430.4,233.5 L432.4,233.7 L434.4,233.9 L436.4,234.0 L438.4,234.2 L440.4,234.3 L442.4,234.5 L444.4,234.6 L446.4,234.8 L448.4,234.9 L450.4,235.1 L452.4,235.2 L454.4,235.3 L456.4,235.4 L458.5,235.5 L460.5,235.6 L462.5,235.7 L464.5,235.8 L466.5,235.9 L468.5,235.9 L470.5,236.0 L472.5,236.1 L474.5,236.1 L476.5,236.2 L478.5,236.2 L480.5,236.3 L482.5,236.3 L484.6,236.3 L486.6,236.4 L488.6,236.4 L490.6,236.4 L492.6,236.4 L494.6,236.5 L496.6,236.5 L498.6,236.5 L500.6,236.5 L502.6,236.5 L504.6,236.5 L506.7,236.5 L508.7,236.5 L510.7,236.5 L512.7,236.5 L514.7,236.5 L516.7,236.5 L518.7,236.5 L520.7,236.5 L522.7,236.5 L524.7,236.5 L526.7,236.5 L528.8,236.5 L530.8,236.5 L532.8,236.5 L534.8,236.5 L536.8,236.5 L538.8,236.5 L540.8,236.5 L542.8,236.5 L544.8,236.5 L546.8,236.5 L548.8,236.5 L550.9,236.5 L552.9,236.5 L554.9,236.5 L556.9,236.5 L558.9,236.5 L560.9,236.5 L562.9,236.5 L564.9,236.5 L566.9,236.5 L568.9,236.5 L570.9,236.5 L573.0,236.5 L575.0,236.4 L577.0,236.4 L579.0,236.4 L581.0,236.4 L583.0,236.4 L585.0,236.4 L587.0,236.4 L589.0,236.4 L591.0,236.4 L593.0,236.4 L595.0,236.4 L597.1,236.4 L599.1,236.4 L601.1,236.4 L603.1,236.4 L605.1,236.4 L607.1,236.4 L609.1,236.4 L611.1,236.4 L613.1,236.4 L615.1,236.4 L617.1,236.4 L619.2,236.4 L621.2,236.4 L623.2,236.4 L625.2,236.4 L627.2,236.4 L629.2,236.4 L631.2,236.4 L633.2,236.4 L635.2,236.4 L637.2,236.4 L639.2,236.5 L641.3,236.5 L643.3,236.5 L645.3,236.5 L647.3,236.5 L649.3,236.5 L651.3,236.5 L653.3,236.5 L655.3,236.5 L657.3,236.5 L659.3,236.5 L661.3,236.5 L663.4,236.5 L665.4,236.5 L667.4,236.5 L669.4,236.5 L671.4,236.5 L673.4,236.5 L675.4,236.5 L677.4,236.5 L679.4,236.5 L681.4,236.5 L683.4,236.5 L685.5,236.5 L687.5,236.5 L689.5,236.5 L691.5,236.5 L693.5,236.5 L695.5,236.5 L697.5,236.5 L699.5,236.5 L701.5,236.5 L703.5,236.5 L705.5,236.5 L707.6,236.5 L709.6,236.5 L711.6,236.5 L713.6,236.5 L715.6,236.5 L717.6,236.5 L719.6,236.5 L721.6,236.5 L723.6,236.5 L725.6,236.5 L727.6,236.5 L729.7,236.5 L731.7,236.5 L733.7,236.5 L735.7,236.5 L737.7,236.5 L739.7,236.5 L741.7,236.5 L743.7,236.5 L745.7,236.5 L747.7,236.5 L749.7,236.5 L751.8,236.5 L753.8,236.5 L755.8,236.5 L757.8,236.5 L759.8,236.5 L761.8,236.5 L763.8,236.5 L765.8,236.5 L767.8,236.5 L769.8,236.5 L771.8,236.5 L773.8,236.5 L775.9,236.5 L777.9,236.5 L779.9,236.5 L781.9,236.5 L783.9,236.5 L785.9,236.5 L787.9,236.5 L789.9,236.5 L791.9,236.5 L793.9,236.5 L795.9,236.5 L798.0,236.5 L800.0,236.5 L802.0,236.5 L804.0,236.5 L806.0,236.5 L808.0,236.5 L810.0,236.5 L812.0,236.5 L814.0,236.5 L816.0,236.5 L818.0,236.5 L820.1,236.6 L822.1,236.6 L824.1,236.6 L826.1,236.6 L828.1,236.6 L830.1,236.6 L832.1,236.6 L834.1,236.6 L836.1,236.6 L838.1,236.6 L840.1,236.6 L842.2,236.6 L844.2,236.6 L846.2,236.6 L848.2,236.6 L850.2,236.6 L852.2,236.6 L854.2,236.6 L856.2,236.6 L858.2,236.6 L860.2,236.6 L862.2,236.5 L864.3,236.5 L866.3,236.5 L868.3,236.5 L870.3,236.5 L872.3,236.5 L874.3,236.5 L876.3,236.5 L878.3,236.5 L880.3,236.5 L882.3,236.5 L884.3,236.5 L886.4,236.5 L888.4,236.5 L890.4,236.5 L892.4,236.5 L894.4,236.5 L896.4,236.5 L898.4,236.5 L900.4,236.5 L902.4,236.5 L904.4,236.5 L906.4,236.5 L908.5,236.5 L910.5,236.5 L912.5,236.5 L914.5,236.5 L916.5,236.5 L918.5,236.5 L920.5,236.5 L922.5,236.5 L924.5,236.5 L926.5,236.5 L928.5,236.5 L930.6,236.5 L932.6,236.5 L934.6,236.5 L936.6,236.5 L938.6,236.5 L940.6,236.5 L942.6,236.5 L944.6,236.5 L946.6,236.5 L948.6,236.5 L950.6,236.5 L952.6,236.5 L954.7,236.5 L956.7,236.5 L958.7,236.5 L960.7,236.5 L962.7,236.5 L964.7,236.5 L966.7,236.5 L968.7,236.5 L970.7,236.5 L972.7,236.5 L974.7,236.5 L976.8,236.5 L978.8,236.5 L980.8,236.5 L982.8,236.5 L984.8,236.5 L986.8,236.5 L988.8,236.5 L990.8,236.5 L992.8,236.5 L994.8,236.5 L996.8,236.5 L998.9,236.5 L1000.9,236.5 L1002.9,236.5 L1004.9,236.5 L1006.9,236.5 L1008.9,236.5 L1010.9,236.5 L1012.9,236.5 L1014.9,236.5 L1016.9,236.5 L1018.9,236.5 L1021.0,236.5 L1023.0,236.5 L1025.0,236.5 L1027.0,236.5 L1029.0,236.5 L1031.0,236.5" stroke="#228b22" stroke-width="1.8" stroke-dasharray="9.1 3.2 1.6 3.2 1.6 3.2"/>
<path d="M107.0,387.1 L1031.0,387.1" stroke="#228b22" stroke-width="1.8" stroke-dasharray="9.1 3.2 1.6 3.2 1.6 3.2"/>
<path d="M107.0,100.7 L108.9,101.2 L110.9,101.8 L112.8,102.3 L114.7,102.8 L116.7,103.3 L118.6,103.9 L120.5,104.4 L122.5,104.9 L124.4,105.4 L126.3,105.9 L128.3,106.4 L130.2,106.9 L132.2,107.4 L134.1,107.9 L136.1,108.4 L138.0,108.8 L140.0,109.3 L141.9,109.7 L143.9,110.2 L145.8,110.6 L147.8,111.0 L149.8,111.4 L151.7,111.8 L153.7,112.2 L155.7,112.5 L157.7,112.9 L159.6,113.2 L161.6,113.5 L163.6,113.8 L165.6,114.1 L167.6,114.4 L169.5,114.7 L171.5,114.9 L173.5,115.1 L175.5,115.3 L177.5,115.5 L179.5,115.7 L181.5,115.9 L183.5,116.0 L185.5,116.2 L187.5,116.3 L189.5,116.4 L191.5,116.5 L193.5,116.6 L195.5,116.7 L197.5,116.8 L199.5,116.9 L201.5,117.0 L203.5,117.1 L205.5,117.2 L207.5,117.3 L209.5,117.4 L211.5,117.5 L213.5,117.6 L215.5,117.7 L217.5,117.8 L219.5,117.9 L221.5,118.0 L223.5,118.1 L225.5,118.2 L227.5,118.4 L229.5,118.5 L231.5,118.6 L233.5,118.7 L235.5,118.9 L237.5,119.0 L239.5,119.1 L241.5,119.2 L243.5,119.4 L245.5,119.5 L247.5,119.6 L249.5,119.7 L251.5,119.8 L253.5,119.9 L255.5,120.0 L257.5,120.1 L259.5,120.2 L261.5,120.3 L263.5,120.4 L265.5,120.5 L267.5,120.6 L269.5,120.6 L271.5,120.7 L273.5,120.8 L275.6,120.9 L277.6,121.0 L279.6,121.1 L281.6,121.2 L283.6,121.3 L285.6,121.4 L287.6,121.5 L289.6,121.7 L291.6,121.8 L293.6,122.0 L295.6,122.1 L297.5,122.3 L299.5,122.5 L301.5,122.7 L303.5,122.9 L305.5,123.1 L307.5,123.3 L309.5,123.6 L311.5,123.8 L313.5,124.1 L315.5,124.4 L317.5,124.6 L319.4,124.9 L321.4,125.3 L323.4,125.6 L325.4,125.9 L327.3,126.3 L329.3,126.7 L331.3,127.1 L333.2,127.5 L335.2,128.0 L337.1,128.5 L339.1,129.0 L341.0,129.5 L342.9,130.0 L344.8,130.6 L346.8,131.1 L348.7,131.7 L350.6,132.3 L352.5,132.9 L354.4,133.5 L356.3,134.1 L358.2,134.8 L360.1,135.4 L362.0,136.1 L363.9,136.8 L365.8,137.4 L367.7,138.2 L369.5,138.9 L371.4,139.6 L373.2,140.4 L375.1,141.2 L376.9,142.0 L378.7,142.9 L380.5,143.8 L382.3,144.7 L384.1,145.6 L385.9,146.5 L387.6,147.5 L389.4,148.5 L391.1,149.5 L392.8,150.5 L394.5,151.6 L396.2,152.7 L397.8,153.8 L399.5,154.9 L401.1,156.1 L402.8,157.3 L404.4,158.5 L406.0,159.7 L407.6,160.9 L409.1,162.1 L410.7,163.3 L412.3,164.6 L413.9,165.8 L415.5,167.0 L417.2,168.1 L418.8,169.3 L420.4,170.5 L422.0,171.6 L423.7,172.8 L425.3,174.0 L426.9,175.2 L428.5,176.4 L430.0,177.7 L431.6,179.0 L433.1,180.3 L434.6,181.6 L436.1,182.9 L437.6,184.2 L439.1,185.5 L440.7,186.8 L442.2,188.1 L443.7,189.4 L445.2,190.7 L446.8,192.0 L448.3,193.3 L449.8,194.6 L451.4,195.9 L452.9,197.2 L454.4,198.5 L455.9,199.9 L457.4,201.2 L458.9,202.5 L460.3,203.9 L461.8,205.2 L463.3,206.6 L464.8,208.0 L466.2,209.3 L467.7,210.7 L469.2,212.1 L470.6,213.4 L472.1,214.8 L473.6,216.2 L475.0,217.5 L476.5,218.9 L477.9,220.3 L479.4,221.7 L480.8,223.1 L482.3,224.4 L483.7,225.8 L485.2,227.2 L486.7,228.6 L488.1,229.9 L489.6,231.3 L491.1,232.6 L492.5,234.0 L494.0,235.3 L495.5,236.7 L497.0,238.0 L498.5,239.3 L500.0,240.7 L501.5,242.0 L503.0,243.3 L504.5,244.7 L506.0,246.0 L507.5,247.3 L509.0,248.7 L510.5,250.0 L511.9,251.4 L513.4,252.8 L514.9,254.1 L516.3,255.5 L517.8,256.9 L519.2,258.3 L520.7,259.6 L522.1,261.0 L523.6,262.4 L525.0,263.8 L526.5,265.2 L528.0,266.5 L529.4,267.9 L530.9,269.3 L532.4,270.6 L533.8,272.0 L535.3,273.3 L536.8,274.7 L538.3,276.0 L539.9,277.3 L541.4,278.6 L542.9,279.8 L544.5,281.1 L546.1,282.3 L547.6,283.6 L549.2,284.8 L550.8,286.1 L552.4,287.3 L553.9,288.5 L555.5,289.8 L557.1,291.0 L558.7,292.3 L560.2,293.5 L561.8,294.7 L563.5,295.9 L565.1,297.1 L566.7,298.2 L568.4,299.3 L570.1,300.4 L571.7,301.5 L573.4,302.6 L575.1,303.6 L576.8,304.7 L578.6,305.7 L580.3,306.8 L582.0,307.8 L583.7,308.9 L585.4,309.9 L587.1,310.9 L588.9,311.9 L590.6,312.9 L592.4,313.8 L594.2,314.7 L596.0,315.6 L597.8,316.5 L599.6,317.3 L601.4,318.1 L603.3,319.0 L605.1,319.8 L606.9,320.7 L608.7,321.6 L610.5,322.5 L612.3,323.4 L614.1,324.2 L616.0,325.0 L617.8,325.7 L619.7,326.4 L621.6,327.0 L623.5,327.5 L625.5,327.9 L627.5,328.4 L629.4,328.8 L631.4,329.3 L633.3,329.8 L635.3,330.3 L637.2,330.8 L639.1,331.3 L641.1,331.8 L643.0,332.3 L644.9,332.8 L646.9,333.3 L648.8,333.8 L650.8,334.2 L652.7,334.6 L654.7,334.9 L656.7,335.3 L658.7,335.6 L660.6,335.9 L662.6,336.2 L664.6,336.4 L666.6,336.7 L668.6,336.9 L670.6,337.1 L672.6,337.3 L674.6,337.5 L676.6,337.7 L678.6,338.0 L680.6,338.2 L682.6,338.4 L684.6,338.6 L686.6,338.8 L688.6,339.0 L690.6,339.2 L692.6,339.4 L694.5,339.6 L696.5,339.8 L698.5,340.0 L700.5,340.2 L702.5,340.4 L704.5,340.6 L706.5,340.8 L708.5,341.0 L710.5,341.2 L712.5,341.3 L714.5,341.5 L716.5,341.7 L718.5,341.9 L720.5,342.1 L722.5,342.2 L724.5,342.4 L726.5,342.6 L728.5,342.8 L730.4,343.0 L732.4,343.1 L734.4,343.3 L736.4,343.5 L738.4,343.7 L740.4,343.9 L742.4,344.1 L744.4,344.3 L746.4,344.6 L748.4,344.8 L750.4,345.1 L752.4,345.3 L754.4,345.6 L756.3,346.0 L758.3,346.3 L760.3,346.6 L762.3,347.0 L764.2,347.4 L766.2,347.8 L768.1,348.3 L770.1,348.8 L772.0,349.3 L774.0,349.8 L775.9,350.4 L777.8,350.9 L779.7,351.6 L781.6,352.2 L783.5,352.9 L785.4,353.5 L787.3,354.3 L789.1,355.0 L791.0,355.8 L792.8,356.6 L794.6,357.4 L796.5,358.2 L798.3,359.0 L800.1,359.9 L801.9,360.7 L803.7,361.6 L805.5,362.5 L807.3,363.4 L809.1,364.3 L810.9,365.2 L812.7,366.1 L814.5,367.0 L816.3,367.9 L818.1,368.8 L819.9,369.7 L821.7,370.6 L823.4,371.6 L825.2,372.5 L826.9,373.5 L828.7,374.5 L830.4,375.5 L832.1,376.6 L833.8,377.6 L835.5,378.7 L837.1,379.8 L838.8,381.0 L840.4,382.1 L842.0,383.3 L843.6,384.5 L845.2,385.7 L846.8,387.0 L848.3,388.2 L849.9,389.5 L851.4,390.8 L853.0,392.1 L854.5,393.4 L856.0,394.8 L857.5,396.1 L859.0,397.5 L860.5,398.8 L861.9,400.2 L863.4,401.5 L864.9,402.9 L866.3,404.3 L867.8,405.7 L869.3,407.0 L870.7,408.4 L872.2,409.8 L873.7,411.1 L875.2,412.5 L876.7,413.8 L878.2,415.1 L879.7,416.4 L881.2,417.7 L882.7,419.0 L884.3,420.3 L885.8,421.6 L887.4,422.8 L889.0,424.0 L890.6,425.2 L892.2,426.4 L893.8,427.6 L895.4,428.9 L897.0,430.1 L898.5,431.3 L900.1,432.6 L901.6,433.8 L903.2,435.1 L904.7,436.5 L906.2,437.8 L907.6,439.1 L909.1,440.5 L910.6,441.9 L912.0,443.3 L913.4,444.7 L914.8,446.1 L916.3,447.5 L917.7,448.9 L919.0,450.4 L920.4,451.8 L921.8,453.3 L923.2,454.8 L924.5,456.2 L925.9,457.7 L927.3,459.2 L928.6,460.7 L930.0,462.2 L931.3,463.6 L932.7,465.1 L934.1,466.6 L935.4,468.1 L936.8,469.6 L938.1,471.0 L939.5,472.5 L940.9,474.0 L942.3,475.4 L943.6,476.9 L945.0,478.4 L946.4,479.8 L947.8,481.3 L949.2,482.7 L950.6,484.1 L952.0,485.6 L953.4,487.0 L954.8,488.5 L956.2,489.9 L957.6,491.3 L959.0,492.7 L960.4,494.2 L961.8,495.6 L963.2,497.0 L964.6,498.4 L966.0,499.9 L967.4,501.3 L968.9,502.7 L970.3,504.1 L971.7,505.5 L973.1,506.9 L974.5,508.3 L976.0,509.8 L977.4,511.2 L978.8,512.6 L980.2,514.0 L981.6,515.4 L983.1,516.8 L984.5,518.2 L985.9,519.6 L987.3,521.0 L988.7,522.5 L990.2,523.9 L991.6,525.3 L993.0,526.7 L994.4,528.1 L995.8,529.5 L997.2,530.9 L998.7,532.4 L1000.1,533.8 L1001.5,535.2 L1002.9,536.6 L1004.3,538.1 L1005.7,539.5 L1007.1,540.9 L1008.5,542.3 L1009.9,543.8 L1011.3,545.2 L1012.7,546.6 L1014.2,548.0 L1015.6,549.5 L1017.0,550.9 L1018.4,552.3 L1019.8,553.8 L1021.2,555.2 L1022.6,556.6 L1024.0,558.0 L1025.4,559.5 L1026.8,560.9 L1028.2,562.3 L1029.6,563.8 L1031.0,565.2" stroke="#ffa500" stroke-width="1.8" stroke-dasharray="9.1 3.2 1.6 3.2"/>
<path d="M107.0,665.0 L108.4,663.6 L109.8,662.2 L111.3,660.8 L112.7,659.3 L114.1,657.9 L115.5,656.5 L116.9,655.1 L118.3,653.6 L119.7,652.2 L121.1,650.8 L122.5,649.3 L124.0,647.9 L125.4,646.5 L126.8,645.1 L128.3,643.8 L129.8,642.4 L131.2,641.0 L132.7,639.7 L134.2,638.4 L135.8,637.1 L137.3,635.8 L138.8,634.5 L140.4,633.2 L141.9,632.0 L143.5,630.7 L145.1,629.5 L146.7,628.2 L148.2,627.0 L149.8,625.7 L151.4,624.5 L153.0,623.3 L154.6,622.1 L156.2,620.9 L157.9,619.8 L159.5,618.6 L161.2,617.6 L162.9,616.5 L164.6,615.4 L166.3,614.4 L168.1,613.4 L169.8,612.3 L171.5,611.4 L173.3,610.4 L175.1,609.5 L176.9,608.6 L178.7,607.8 L180.6,607.0 L182.4,606.3 L184.3,605.6 L186.2,604.9 L188.1,604.3 L190.0,603.7 L192.0,603.1 L193.9,602.6 L195.8,602.0 L197.7,601.5 L199.7,601.0 L201.6,600.5 L203.6,600.0 L205.5,599.5 L207.5,599.1 L209.4,598.6 L211.4,598.2 L213.4,597.8 L215.3,597.5 L217.3,597.1 L219.3,596.7 L221.3,596.4 L223.2,596.0 L225.2,595.7 L227.2,595.3 L229.2,595.0 L231.1,594.7 L233.1,594.4 L235.1,594.2 L237.1,594.0 L239.1,593.7 L241.1,593.5 L243.1,593.4 L245.1,593.2 L247.1,593.0 L249.1,592.9 L251.1,592.7 L253.1,592.5 L255.1,592.4 L257.1,592.2 L259.1,592.1 L261.1,591.9 L263.1,591.8 L265.1,591.6 L267.1,591.5 L269.1,591.3 L271.1,591.2 L273.1,591.1 L275.1,590.9 L277.1,590.8 L279.1,590.7 L281.1,590.5 L283.1,590.4 L285.1,590.3 L287.1,590.2 L289.1,590.0 L291.1,589.9 L293.1,589.7 L295.1,589.5 L297.1,589.3 L299.1,589.1 L301.1,588.8 L303.1,588.5 L305.0,588.2 L307.0,587.9 L309.0,587.5 L311.0,587.1 L312.9,586.7 L314.9,586.2 L316.8,585.7 L318.7,585.1 L320.7,584.5 L322.6,583.8 L324.4,583.2 L326.3,582.4 L328.2,581.7 L330.0,580.9 L331.8,580.0 L333.7,579.2 L335.4,578.2 L337.2,577.3 L339.0,576.3 L340.7,575.3 L342.4,574.3 L344.1,573.2 L345.8,572.1 L347.5,571.0 L349.1,569.8 L350.7,568.6 L352.3,567.4 L353.9,566.2 L355.5,564.9 L357.0,563.6 L358.5,562.3 L360.0,561.0 L361.4,559.6 L362.9,558.2 L364.2,556.7 L365.6,555.2 L366.9,553.7 L368.3,552.2 L369.6,550.7 L370.9,549.2 L372.1,547.6 L373.4,546.1 L374.7,544.5 L375.9,543.0 L377.2,541.4 L378.4,539.8 L379.6,538.2 L380.9,536.6 L382.1,535.0 L383.2,533.4 L384.4,531.8 L385.6,530.1 L386.7,528.5 L387.9,526.9 L389.0,525.2 L390.1,523.5 L391.3,521.9 L392.4,520.2 L393.5,518.5 L394.5,516.8 L395.6,515.1 L396.7,513.4 L397.7,511.7 L398.8,510.0 L399.8,508.3 L400.9,506.6 L401.9,504.9 L402.9,503.1 L403.9,501.4 L404.9,499.7 L405.9,497.9 L406.9,496.2 L407.8,494.4 L408.8,492.6 L409.7,490.9 L410.7,489.1 L411.6,487.3 L412.6,485.6 L413.5,483.8 L414.4,482.0 L415.3,480.2 L416.2,478.4 L417.1,476.6 L418.0,474.8 L418.9,473.0 L419.7,471.2 L420.6,469.4 L421.5,467.6 L422.4,465.8 L423.3,464.0 L424.1,462.2 L425.0,460.4 L425.9,458.6 L426.8,456.8 L427.6,455.0 L428.5,453.2 L429.4,451.4 L430.3,449.6 L431.2,447.8 L432.1,446.0 L433.1,444.2 L434.0,442.5 L434.9,440.7 L435.8,438.9 L436.6,437.1 L437.5,435.2 L438.3,433.4 L439.0,431.6 L439.8,429.7 L440.5,427.8 L441.2,425.9 L441.9,424.1 L442.6,422.2 L443.3,420.3 L444.0,418.4 L444.7,416.5 L445.4,414.6 L446.1,412.8 L446.8,410.9 L447.5,409.0 L448.3,407.2 L449.0,405.3 L449.8,403.4 L450.5,401.6 L451.3,399.7 L452.0,397.9 L452.8,396.0 L453.6,394.2 L454.3,392.3 L455.1,390.5 L455.9,388.6 L456.6,386.7 L457.4,384.9 L458.1,383.0 L458.9,381.2 L459.6,379.3 L460.4,377.5 L461.1,375.6 L461.9,373.7 L462.6,371.9 L463.3,370.0 L464.1,368.1 L464.8,366.2 L465.5,364.4 L466.2,362.5 L466.9,360.6 L467.5,358.7 L468.2,356.8 L468.9,354.9 L469.5,353.0 L470.2,351.2 L470.9,349.3 L471.5,347.4 L472.2,345.5 L472.8,343.6 L473.4,341.7 L474.1,339.8 L474.7,337.9 L475.4,336.0 L476.0,334.1 L476.7,332.2 L477.3,330.3 L478.0,328.4 L478.6,326.5 L479.3,324.6 L479.9,322.7 L480.6,320.8 L481.3,318.9 L482.0,317.0 L482.7,315.2 L483.4,313.3 L484.2,311.4 L484.9,309.6 L485.6,307.7 L486.4,305.8 L487.1,304.0 L487.9,302.1 L488.6,300.3 L489.4,298.4 L490.2,296.5 L490.9,294.7 L491.7,292.8 L492.4,291.0 L493.2,289.1 L493.9,287.2 L494.6,285.4 L495.3,283.5 L496.1,281.6 L496.8,279.7 L497.4,277.9 L498.1,276.0 L498.8,274.1 L499.5,272.2 L500.1,270.3 L500.8,268.4 L501.4,266.5 L502.0,264.6 L502.7,262.7 L503.3,260.8 L504.0,258.9 L504.6,257.0 L505.3,255.1 L505.9,253.2 L506.6,251.3 L507.3,249.4 L507.9,247.5 L508.6,245.7 L509.3,243.8 L510.0,241.9 L510.7,240.0 L511.3,238.1 L512.0,236.2 L512.7,234.3 L513.4,232.4 L514.0,230.6 L514.7,228.7 L515.4,226.8 L516.0,224.9 L516.7,223.0 L517.4,221.1 L518.1,219.2 L518.8,217.3 L519.4,215.5 L520.2,213.6 L520.9,211.7 L521.6,209.8 L522.3,208.0 L523.1,206.1 L523.8,204.2 L524.6,202.4 L525.4,200.5 L526.1,198.7 L526.9,196.8 L527.7,195.0 L528.5,193.2 L529.3,191.3 L530.1,189.5 L530.9,187.6 L531.7,185.8 L532.4,183.9 L533.2,182.1 L534.0,180.2 L534.7,178.4 L535.5,176.5 L536.2,174.7 L536.9,172.8 L537.7,170.9 L538.4,169.0 L539.1,167.2 L539.8,165.3 L540.5,163.4 L541.2,161.5 L541.9,159.7 L542.6,157.8 L543.3,155.9 L544.0,154.0 L544.7,152.1 L545.4,150.3 L546.1,148.4 L546.9,146.5 L547.6,144.6 L548.3,142.8 L549.0,140.9 L549.7,139.0 L550.4,137.1 L551.1,135.3 L551.8,133.4 L552.5,131.5 L553.2,129.6 L553.9,127.7 L554.6,125.9 L555.3,124.0 L556.0,122.1 L556.8,120.2 L557.5,118.4 L558.2,116.5 L558.9,114.6 L559.6,112.7 L560.3,110.9 L561.0,109.0 L561.7,107.1 L562.4,105.2 L563.1,103.4 L563.9,101.5 L564.6,99.6 L565.3,97.7 L566.0,95.9 L566.7,94.0 L567.4,92.1 L568.1,90.2 L568.8,88.4 L569.5,86.5 L570.2,84.6 L570.9,82.7 L571.6,80.8 L572.3,79.0 L573.0,77.1 L573.7,75.2" stroke="#f0f" stroke-width="4.3" stroke-dasharray="1.9 2.0"/>
</g>
<g>
<text x="226.6" y="58.0" font-size="25.00" text-anchor="middle" fill="#000"><tspan>10</tspan><tspan dy="-12.50" font-size="20.00">3</tspan><tspan dy="12.50"> R</tspan><tspan dy="7.50" font-size="20.00">g</tspan></text>
<text x="534.6" y="58.0" font-size="25.00" text-anchor="middle" fill="#000"><tspan>10</tspan><tspan dy="-12.50" font-size="20.00">4</tspan><tspan dy="12.50"> R</tspan><tspan dy="7.50" font-size="20.00">g</tspan></text>
<text x="842.6" y="58.0" font-size="25.00" text-anchor="middle" fill="#000"><tspan>10</tspan><tspan dy="-12.50" font-size="20.00">5</tspan><tspan dy="12.50"> R</tspan><tspan dy="7.50" font-size="20.00">g</tspan></text>
<text x="381.0" y="17.5" font-size="25.00" text-anchor="middle" fill="#000"><tspan>r</tspan><tspan dy="7.50" font-size="20.00">BLR</tspan></text>
<text x="811.5" y="17.5" font-size="25.00" text-anchor="middle" fill="#000"><tspan>r</tspan><tspan dy="7.50" font-size="20.00">IR</tspan></text>
<text x="107.5" y="738.0" font-size="25.00" text-anchor="middle" fill="#000"><tspan>0.01 pc</tspan></text>
<text x="415.5" y="738.0" font-size="25.00" text-anchor="middle" fill="#000"><tspan>0.1 pc</tspan></text>
<text x="723.5" y="738.0" font-size="25.00" text-anchor="middle" fill="#000"><tspan>1 pc</tspan></text>
<text x="1031.5" y="738.0" font-size="25.00" text-anchor="middle" fill="#000"><tspan>10 pc</tspan></text>
<text x="568.7" y="776.0" font-size="25.00" text-anchor="middle" fill="#000"><tspan>r</tspan></text>
<text x="92.6" y="616.0" font-size="25.00" text-anchor="end" fill="#000"><tspan>10</tspan></text>
<text x="1046.0" y="267.2" font-size="25.00" text-anchor="start" fill="#000"><tspan>10</tspan></text>
<text x="1046.0" y="348.9" font-size="25.00" text-anchor="start" fill="#000"><tspan>1</tspan></text>
<text x="1046.0" y="430.7" font-size="25.00" text-anchor="start" fill="#000"><tspan>0.1</tspan></text>
<text x="0" y="0" transform="translate(26.00,399.50) rotate(-90.00)" font-size="25.00" text-anchor="start" fill="#000"><tspan font-family="Liberation Serif, serif" font-style="normal">Γ</tspan><tspan dy="7.50" font-size="20.00">j</tspan></text>
<text x="0" y="0" transform="translate(1110.00,468.50) rotate(-90.00)" font-size="25.00" text-anchor="start" fill="#000"><tspan>E</tspan><tspan dy="7.50" font-size="20.00">max,obs</tspan><tspan dy="-7.50"> [TeV]</tspan></text>
<text x="754.0" y="591.5" font-size="37.50" text-anchor="start" fill="#000"><tspan>3C 279</tspan></text>
<text x="754.0" y="619.0" font-size="25.00" text-anchor="start" fill="#000"><tspan>MJD 56646</tspan></text>
<text x="0" y="0" transform="translate(754.00,649.70) scale(0.9830,1)" font-size="25.00" text-anchor="start" fill="#000"><tspan>L</tspan><tspan dy="7.50" font-size="20.00" font-family="Liberation Serif, serif" font-style="normal">γ</tspan><tspan dy="-7.50"> = 6.0e+48 erg s</tspan><tspan dy="-12.50" font-size="20.00">-1</tspan></text>
<text x="754.0" y="678.7" font-size="25.00" text-anchor="start" fill="#000"><tspan>t</tspan><tspan dy="7.50" font-size="20.00">var,obs</tspan><tspan dy="-7.50"> = 2.0 h</tspan></text>
<text x="238.8" y="426.0" font-size="25.00" text-anchor="start" fill="#000"><tspan>B1</tspan></text>
<text x="423.8" y="315.0" font-size="25.00" text-anchor="start" fill="#000"><tspan>B2</tspan></text>
<text x="0" y="0" transform="translate(271.00,321.50) rotate(-44.40)" font-size="18.75" text-anchor="start" fill="#f00"><tspan font-family="Liberation Serif, serif" font-style="normal">Γ</tspan><tspan dy="5.62" font-size="15.00">j</tspan><tspan dy="-5.62" font-family="Liberation Serif, serif" font-style="normal">θ</tspan><tspan dy="5.62" font-size="15.00">j</tspan><tspan dy="-5.62" dx="1.20"> = 1</tspan></text>
<text x="0" y="0" transform="translate(232.50,674.50) rotate(-44.40)" font-size="18.75" text-anchor="start" fill="#f00"><tspan font-family="Liberation Serif, serif" font-style="normal">Γ</tspan><tspan dy="5.62" font-size="15.00">j</tspan><tspan dy="-5.62" font-family="Liberation Serif, serif" font-style="normal">θ</tspan><tspan dy="5.62" font-size="15.00">j</tspan><tspan dy="-5.62" dx="1.20"> = 0.1</tspan></text>
<text x="0" y="0" transform="translate(541.50,674.50) rotate(-44.40)" font-size="18.75" text-anchor="start" fill="#f00"><tspan font-family="Liberation Serif, serif" font-style="normal">Γ</tspan><tspan dy="5.62" font-size="15.00">j</tspan><tspan dy="-5.62" font-family="Liberation Serif, serif" font-style="normal">θ</tspan><tspan dy="5.62" font-size="15.00">j</tspan><tspan dy="-5.62" dx="1.20"> = 0.01</tspan></text>
<text x="0" y="0" transform="translate(554.30,154.20) rotate(-11.00)" font-size="18.75" text-anchor="start" fill="#00f"><tspan>L</tspan><tspan dy="5.62" font-size="15.00">SSC</tspan><tspan dy="-5.62"> = 10</tspan><tspan dy="-9.38" font-size="15.00">46</tspan><tspan dy="9.38"> erg s</tspan><tspan dy="-9.38" font-size="15.00">-1</tspan><tspan dy="9.38"> (u</tspan><tspan dy="5.62" font-size="15.00" font-family="Liberation Serif, serif" font-style="normal">γ</tspan><tspan dy="-5.62">’/u</tspan><tspan dy="5.62" font-size="15.00">B</tspan><tspan dy="-5.62">’ = 200)</tspan></text>
<text x="0" y="0" transform="translate(571.40,228.40) rotate(-14.40)" font-size="18.75" text-anchor="start" fill="#00f"><tspan>L</tspan><tspan dy="5.62" font-size="15.00">SSC</tspan><tspan dy="-5.62"> = 10</tspan><tspan dy="-9.38" font-size="15.00">47</tspan><tspan dy="9.38"> erg s</tspan><tspan dy="-9.38" font-size="15.00">-1</tspan><tspan dy="9.38"> (u</tspan><tspan dy="5.62" font-size="15.00" font-family="Liberation Serif, serif" font-style="normal">γ</tspan><tspan dy="-5.62">’/u</tspan><tspan dy="5.62" font-size="15.00">B</tspan><tspan dy="-5.62">’ = 2000)</tspan></text>
<text x="833.5" y="225.6" font-size="18.75" text-anchor="start" fill="#228b22"><tspan>L</tspan><tspan dy="5.62" font-size="15.00">j,min</tspan><tspan dy="-5.62"> = 10</tspan><tspan dy="-9.38" font-size="15.00">45</tspan><tspan dy="9.38"> erg s</tspan><tspan dy="-9.38" font-size="15.00">-1</tspan></text>
<text x="844.4" y="375.7" font-size="18.75" text-anchor="start" fill="#228b22"><tspan>L</tspan><tspan dy="5.62" font-size="15.00">j,min</tspan><tspan dy="-5.62"> = 3x10</tspan><tspan dy="-9.38" font-size="15.00">45</tspan><tspan dy="9.38"> erg s</tspan><tspan dy="-9.38" font-size="15.00">-1</tspan></text>
<text x="0" y="0" transform="translate(132.50,612.00) rotate(-14.20)" font-size="18.75" text-anchor="start" fill="#f0f"><tspan>E</tspan><tspan dy="5.62" font-size="15.00">cool</tspan><tspan dy="-5.62"> = 100 MeV</tspan></text>
<text x="0" y="0" transform="translate(643.00,323.50) rotate(7.40)" font-size="18.75" text-anchor="start" fill="#ffa500"><tspan font-family="Liberation Serif, serif" font-style="normal">λ</tspan><tspan dy="5.62" font-size="15.00">SSA</tspan><tspan dy="-5.62"> = 300 </tspan><tspan font-family="Liberation Serif, serif" font-style="normal">μ</tspan><tspan>m</tspan></text>
</g>
<path d="M107.0,705.0 L107.0,695.0 M199.7,705.0 L199.7,700.0 M254.0,705.0 L254.0,700.0 M292.4,705.0 L292.4,700.0 M322.3,705.0 L322.3,700.0 M346.7,705.0 L346.7,700.0 M367.3,705.0 L367.3,700.0 M385.2,705.0 L385.2,700.0 M400.9,705.0 L400.9,700.0 M415.0,705.0 L415.0,695.0 M507.7,705.0 L507.7,700.0 M562.0,705.0 L562.0,700.0 M600.4,705.0 L600.4,700.0 M630.3,705.0 L630.3,700.0 M654.7,705.0 L654.7,700.0 M675.3,705.0 L675.3,700.0 M693.2,705.0 L693.2,700.0 M708.9,705.0 L708.9,700.0 M723.0,705.0 L723.0,695.0 M815.7,705.0 L815.7,700.0 M870.0,705.0 L870.0,700.0 M908.4,705.0 L908.4,700.0 M938.3,705.0 L938.3,700.0 M962.7,705.0 L962.7,700.0 M983.3,705.0 L983.3,700.0 M1001.2,705.0 L1001.2,700.0 M1016.9,705.0 L1016.9,700.0 M1031.0,705.0 L1031.0,695.0 M132.9,75.0 L132.9,80.0 M157.3,75.0 L157.3,80.0 M177.9,75.0 L177.9,80.0 M195.8,75.0 L195.8,80.0 M211.5,75.0 L211.5,80.0 M225.6,75.0 L225.6,85.0 M318.3,75.0 L318.3,80.0 M372.6,75.0 L372.6,80.0 M411.0,75.0 L411.0,80.0 M440.9,75.0 L440.9,80.0 M465.3,75.0 L465.3,80.0 M485.9,75.0 L485.9,80.0 M503.8,75.0 L503.8,80.0 M519.5,75.0 L519.5,80.0 M533.6,75.0 L533.6,85.0 M626.3,75.0 L626.3,80.0 M680.6,75.0 L680.6,80.0 M719.0,75.0 L719.0,80.0 M748.9,75.0 L748.9,80.0 M773.3,75.0 L773.3,80.0 M793.9,75.0 L793.9,80.0 M811.8,75.0 L811.8,80.0 M827.5,75.0 L827.5,80.0 M841.6,75.0 L841.6,85.0 M934.3,75.0 L934.3,80.0 M988.6,75.0 L988.6,80.0 M1027.0,75.0 L1027.0,80.0 M107.0,668.5 L112.0,668.5 M107.0,636.2 L112.0,636.2 M107.0,607.4 L117.0,607.4 M107.0,417.8 L112.0,417.8 M107.0,306.8 L112.0,306.8 M107.0,228.1 L112.0,228.1 M107.0,167.1 L112.0,167.1 M107.0,117.2 L112.0,117.2 M1031.0,258.6 L1021.0,258.6 M1031.0,340.3 L1021.0,340.3 M1031.0,422.1 L1021.0,422.1" stroke="#000" stroke-width="1.7" fill="none"/>
<rect x="107.0" y="75.0" width="924.0" height="630.0" fill="none" stroke="#000" stroke-width="2"/>
</svg>
</body></html>
